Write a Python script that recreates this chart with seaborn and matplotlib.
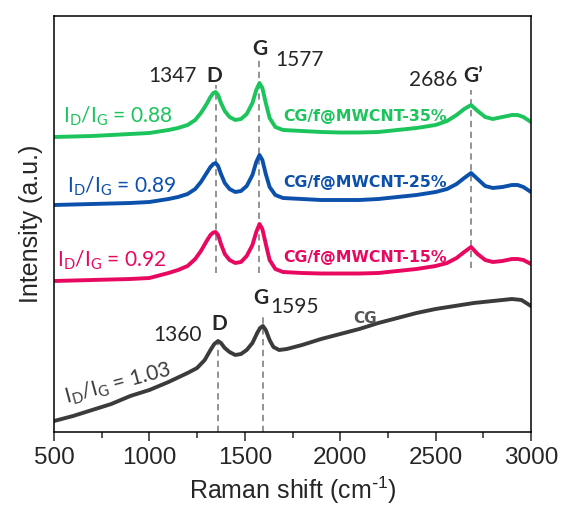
#!/usr/bin/env python3
import matplotlib
matplotlib.use("Agg")
import matplotlib.pyplot as plt
import pandas as pd
import seaborn as sns

# Raman shift grid for the three CG/f@MWCNT spectra
shift = [500, 600, 700, 800, 900, 1000, 1100, 1150, 1200, 1240, 1270, 1300, 1320,
         1335, 1347, 1360, 1375, 1395, 1420, 1450, 1480, 1510, 1540, 1560, 1577,
         1592, 1610, 1630, 1660, 1700, 1800, 1900, 2000, 2100, 2200, 2300, 2400,
         2500, 2560, 2610, 2650, 2686, 2720, 2760, 2800, 2850, 2900, 2930, 2960, 3000]

# offset intensities (a.u.)
mw35 = [295, 295.5, 296, 297, 298, 299, 302, 304, 307, 312, 319, 328, 335,
        339, 340, 337, 329, 321, 315, 312, 313, 318, 329, 342, 349,
        344, 329, 314, 305, 302, 301, 300, 299.5, 299.5, 300, 302, 304,
        307, 311, 317, 323, 327, 321, 315, 313, 315, 317, 317, 315, 310]
mw25 = [227, 227.5, 228, 228.5, 229, 230, 233, 235, 238, 243, 250, 259, 265,
        268, 269, 266, 258, 249, 243, 240, 241, 246, 257, 270, 277,
        272, 258, 245, 237, 234, 233, 232, 232, 232, 233, 235, 237,
        240, 243, 248, 254, 259, 253, 246, 244, 245, 247, 247, 245, 240]
mw15 = [151, 151.5, 152, 152.5, 153, 154, 159, 162, 166, 173, 181, 191, 197,
        199.5, 200, 197, 188, 178, 172, 169, 170, 176, 187, 200, 208,
        203, 188, 172, 163, 160, 159, 158.5, 158.5, 158.5, 159, 161, 163,
        166, 169, 174, 180, 185, 178, 172, 170, 171, 173, 173, 172, 168]

# pristine CG spectrum
cg_shift = [500, 600, 700, 800, 900, 1000, 1100, 1200, 1250, 1290, 1320, 1340, 1360,
            1375, 1395, 1420, 1450, 1480, 1510, 1540, 1565, 1580, 1595, 1610, 1630,
            1650, 1680, 1720, 1800, 1900, 2000, 2100, 2200, 2300, 2400, 2500, 2600,
            2700, 2800, 2900, 2950, 3000]
cg = [11, 16, 22, 28, 36, 42, 50, 59, 64, 72, 82, 88, 91,
      89, 84, 80, 77, 78, 82, 89, 99, 104, 106, 102, 92,
      85, 82, 83, 87, 93, 98, 103, 109, 114, 119, 123, 126,
      129, 131, 133, 132, 126]

labels = ["CG/f@MWCNT-35%", "CG/f@MWCNT-25%", "CG/f@MWCNT-15%"]
ratios = ["0.88", "0.89", "0.92"]
colors = ["#1cc45c", "#0b50ab", "#e8085f"]
cg_color = "#3b3b3b"

sns.set_style("ticks")
plt.rcParams["font.family"] = ["Liberation Sans", "DejaVu Sans"]
plt.rcParams["mathtext.default"] = "regular"

fig = plt.figure(figsize=(5.63, 5.07), dpi=100)
ax = fig.add_axes([54 / 563, 75 / 507, 477 / 563, 416 / 507])

for ys, name, c in zip([mw35, mw25, mw15], labels, colors):
    d = pd.DataFrame({"shift": shift, "I": ys})
    sns.lineplot(data=d, x="shift", y="I", color=c, lw=2.8, ax=ax)
sns.lineplot(data=pd.DataFrame({"shift": cg_shift, "I": cg}), x="shift", y="I",
             color=cg_color, lw=2.8, ax=ax)

# peak guide lines
dash = dict(color="#8a8a8a", lw=1.3, ls=(0, (3.5, 2.5)), zorder=0)
ax.vlines([1347, 1577, 2686], [159, 159, 164], [347, 372, 342], **dash)
ax.vlines([1360, 1595], [0, 0], [92, 117], **dash)

ann = ["Lato", "DejaVu Sans"]
ax.text(1249, 350, "1347", fontsize=15, family=ann, ha="right")
ax.text(1341, 350, "D", fontsize=15, family=ann, weight="bold", ha="center")
ax.text(1580, 377, "G", fontsize=15, family=ann, weight="bold", ha="center")
ax.text(1658, 366, "1577", fontsize=15, family=ann)
ax.text(2612, 346, "2686", fontsize=15, family=ann, ha="right")
ax.text(2644, 350, "G\u2019", fontsize=15, family=ann, weight="bold")
ax.text(1276, 91, "1360", fontsize=15, family=ann, ha="right")
ax.text(1365, 102, "D", fontsize=15, family=ann, weight="bold", ha="center")
ax.text(1585, 128, "G", fontsize=15, family=ann, weight="bold", ha="center")
ax.text(1632, 119, "1595", fontsize=15, family=ann)
ax.text(2067, 109, "CG", fontsize=11, weight="bold", family="DejaVu Sans",
        color="#555555")

for name, r, c, lx, ly, by in zip(labels, ratios, colors,
                                  [547, 568, 516], [309, 239, 165],
                                  [311, 245, 170]):
    ax.text(lx, ly, "$I_D$/$I_G$ = " + r, fontsize=15, family=ann, color=c)
    ax.text(2130, by, name, fontsize=11.3, weight="bold", family="DejaVu Sans",
            color=c, ha="center")
ax.text(835, 48, "$I_D$/$I_G$ = 1.03", fontsize=15, family=ann, color=cg_color,
        rotation=15, ha="center", va="center", rotation_mode="anchor")

ax.set_xlim(500, 3000)
ax.set_ylim(0, 416)
ax.set_xticks(range(500, 3001, 500))
ax.set_xticks(range(750, 3000, 500), minor=True)
ax.set_yticks([])
ax.tick_params(axis="x", which="major", length=6.5, width=1.1, labelsize=17.5,
               direction="out", pad=4)
ax.tick_params(axis="x", which="minor", length=4, width=1.1, direction="out")
for s in ax.spines.values():
    s.set_visible(True)
    s.set_linewidth(1.1)
    s.set_color("black")
ax.set_xlabel("Raman shift (cm$^{\\text{-}1}$)", fontsize=18, labelpad=4)
ax.set_ylabel("Intensity (a.u.)", fontsize=18, labelpad=8)

fig.savefig("out.png", dpi=100)
